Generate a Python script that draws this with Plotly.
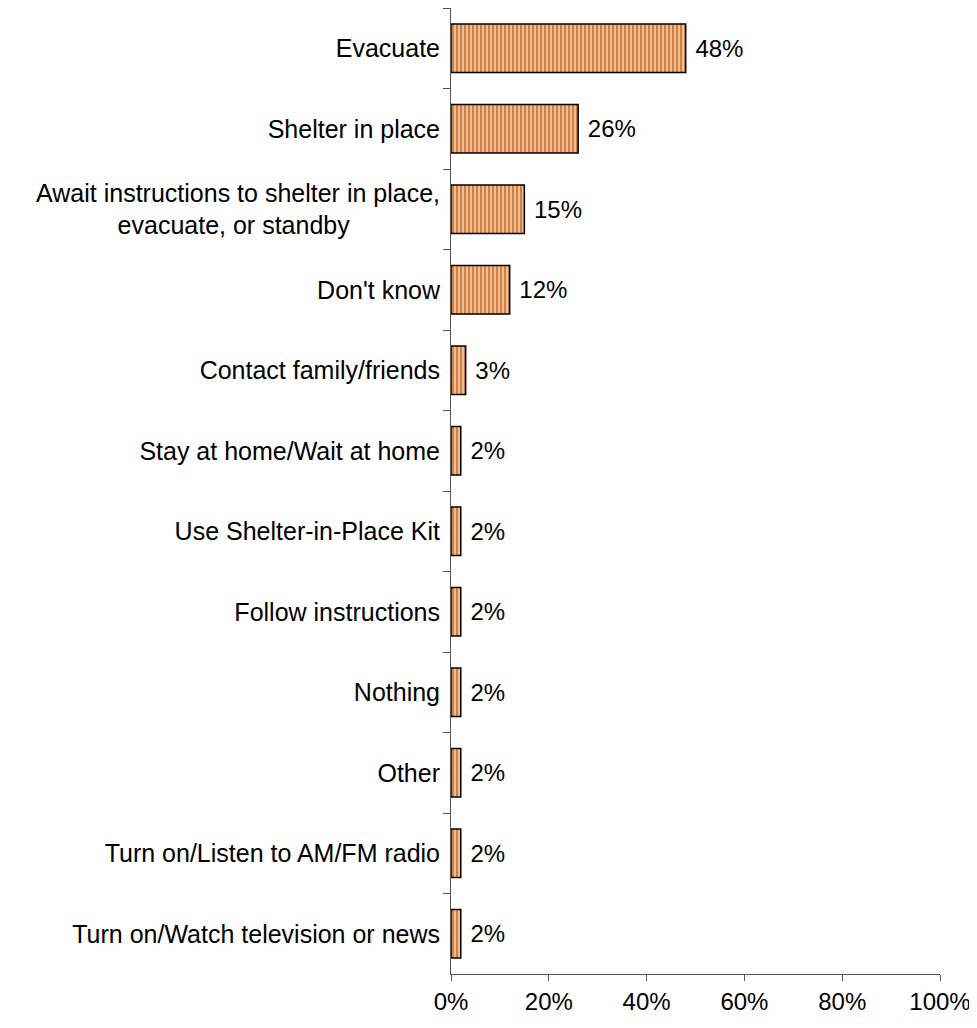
import plotly.graph_objects as go

categories = [
    "Evacuate",
    "Shelter in place",
    "Await instructions to shelter in place,<br>evacuate, or standby" + "\u00a0" * 13,
    "Don't know",
    "Contact family/friends",
    "Stay at home/Wait at home",
    "Use Shelter-in-Place Kit",
    "Follow instructions",
    "Nothing",
    "Other",
    "Turn on/Listen to AM/FM radio",
    "Turn on/Watch television or news",
]
values = [48, 26, 15, 12, 3, 2, 2, 2, 2, 2, 2, 2]
x_ticks = [0, 20, 40, 60, 80, 100]
x_tick_labels = ["0%", "20%", "40%", "60%", "80%", "100%"]

fig = go.Figure(go.Bar(
    x=values,
    y=categories,
    orientation="h",
    text=[f"\u00a0{v}%" for v in values],
    textposition="outside",
    textfont=dict(size=24, color="black"),
    cliponaxis=False,
    marker=dict(
        color="#FFCC99",
        line=dict(color="black", width=1.5),
        pattern=dict(shape="|", fgcolor="#993300", bgcolor="#FFCC99",
                     size=4, solidity=0.6),
    ),
))

# page body adds an 8px offset, so margins are shifted to compensate
fig.update_layout(
    width=977, height=1028,
    plot_bgcolor="white", paper_bgcolor="white",
    font=dict(family="Liberation Sans, Arial, sans-serif", size=24, color="black"),
    margin=dict(l=443, r=45, t=0, b=62, autoexpand=False),
    bargap=0.4,
    showlegend=False,
    xaxis=dict(
        range=[0, 100], tickvals=x_ticks, ticktext=x_tick_labels,
        tickfont=dict(size=24),
        showgrid=False, zeroline=False,
        showline=True, linecolor="#555", linewidth=1,
        ticks="outside", ticklen=6, tickcolor="#555",
        automargin=False,
    ),
    yaxis=dict(
        autorange="reversed", showgrid=False,
        tickfont=dict(size=25),
        showline=True, linecolor="#555", linewidth=1,
        ticks="outside", ticklen=7, tickcolor="#555",
        tickson="boundaries", ticklabelstandoff=5,
        automargin=False,
    ),
)

fig.write_html("out.html")
